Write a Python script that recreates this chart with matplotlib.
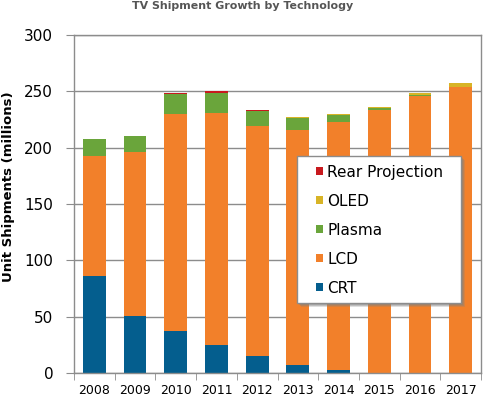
import matplotlib
matplotlib.use("Agg")
import matplotlib.pyplot as plt
from matplotlib.patches import Rectangle
import numpy as np

years = ["2008", "2009", "2010", "2011", "2012", "2013", "2014", "2015", "2016", "2017"]
crt = [86, 51, 37, 25, 15, 7, 3, 0, 0, 0]
lcd = [107, 145, 193, 206, 204.5, 209, 220, 233.7, 246, 254]
plasma = [14.5, 14, 17.7, 17.7, 13, 10.6, 5.7, 1.5, 0.6, 0]
oled = [0, 0, 0, 0, 0, 0.9, 0.9, 1.2, 1.8, 3.5]
rear = [0.6, 0.7, 0.6, 1.2, 0.9, 0, 0, 0, 0, 0]

series = [("CRT", crt, "#045e8e"), ("LCD", lcd, "#f2802a"), ("Plasma", plasma, "#6aa53b"),
          ("OLED", oled, "#d8b426"), ("Rear Projection", rear, "#c8191e")]

W, H = 486, 397
fig = plt.figure(figsize=(W / 100, H / 100), dpi=100)
ax = fig.add_axes([74/W, 24/H, 407/W, 338/H])

x = np.arange(len(years))
bottom = np.zeros(len(years))
handles = []
for name, vals, col in series:
    v = np.array(vals, dtype=float)
    b = ax.bar(x, v, 0.56, bottom=bottom, color=col, label=name, zorder=2)
    handles.append(b)
    bottom += v

ax.set_xlim(-0.5, len(years) - 0.5)
ax.set_ylim(0, 300)
ax.set_yticks(range(0, 301, 50))
ax.yaxis.grid(True, color="#8c8c8c", linewidth=1.0, zorder=0)
ax.set_axisbelow(True)
ax.set_xticks(x)
ax.set_xticklabels(years, fontsize=9)
ax.set_xticks(np.arange(-0.5, len(years), 1), minor=True)
ax.tick_params(axis="x", which="major", length=0, pad=8)
ax.tick_params(axis="x", which="minor", length=5, color="#8c8c8c", direction="out")
ax.tick_params(axis="y", labelsize=11, length=6, color="#8c8c8c", pad=9)
for s in ax.spines.values():
    s.set_color("#8c8c8c")
    s.set_linewidth(1.0)

fig.text(9/W, 1 - 186.5/H, "Unit Shipments (millions)", rotation=90, ha="center", va="center",
         fontsize=9.5, fontweight="bold")
fig.text(0.5, 0.997, "TV Shipment Growth by Technology", ha="center", va="top",
         fontsize=7.9, fontweight="bold", color="#555555")

# legend frame with shadow
x0, x1 = (297 - 74) / 407, (461 - 74) / 407
y0, y1 = (373 - 303) / 338, (373 - 156) / 338
for off, a in [(4, 0.25), (3, 0.35), (2, 0.35)]:
    ax.add_patch(Rectangle((x0 + off / 407, y0 - off / 338), x1 - x0, y1 - y0,
                           transform=ax.transAxes, facecolor="#808080", alpha=a,
                           edgecolor="none", zorder=4))
ax.add_patch(Rectangle((x0, y0), x1 - x0, y1 - y0, transform=ax.transAxes,
                       facecolor="white", edgecolor="#8c8c8c", linewidth=1.0, zorder=4.5))

leg = ax.legend(handles[::-1], [s[0] for s in series][::-1], loc="upper left",
                bbox_to_anchor=((316 - 74) / 407, (373 - 164.5) / 338), borderaxespad=0,
                fontsize=11, frameon=False, handlelength=0.46, handleheight=0.46,
                handletextpad=0.28, labelspacing=0.92, borderpad=0)
leg.set_zorder(5)

fig.savefig("out.png", dpi=100)
